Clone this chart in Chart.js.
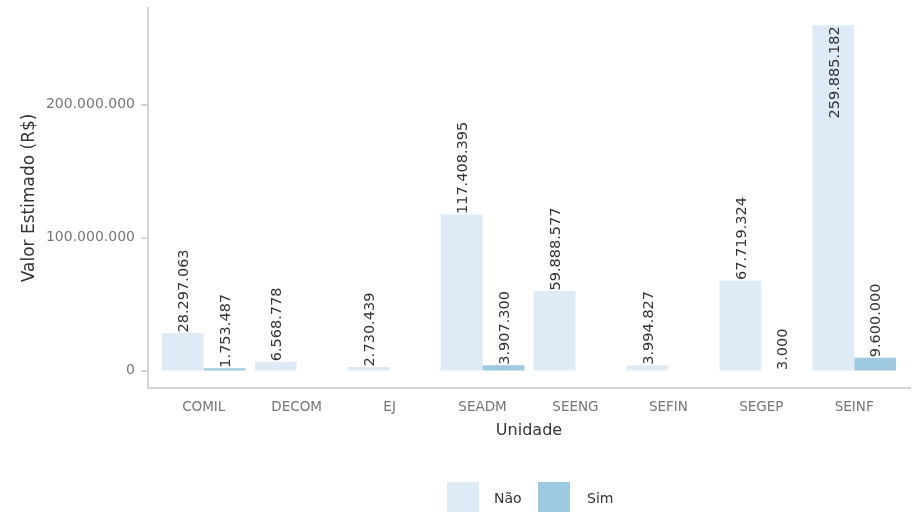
<!DOCTYPE html>
<html>
<head>
<meta charset="utf-8">
<script src="https://cdn.jsdelivr.net/npm/chart.js@4/dist/chart.umd.min.js"></script>
<style>
  html, body { margin: 0; padding: 0; background: #ffffff; }
  #wrap { width: 915px; height: 512px; }
</style>
</head>
<body>
<div id="wrap"><canvas id="c" width="915" height="512"></canvas></div>
<script>
const categories = ['COMIL', 'DECOM', 'EJ', 'SEADM', 'SEENG', 'SEFIN', 'SEGEP', 'SEINF'];
const seriesNames = ['Não', 'Sim'];
const valuesNao = [28297063, 6568778, 2730439, 117408395, 59888577, 3994827, 67719324, 259885182];
const valuesSim = [1753487, null, null, 3907300, null, null, 3000, 9600000];
const yTicks = [0, 100000000, 200000000];
const colors = ['#deebf7', '#9ecae1'];

const FONT = "'DejaVu Sans', sans-serif";

function fmt(v) {
  return String(Math.round(v)).replace(/\B(?=(\d{3})+(?!\d))/g, '.');
}
function toPoints(arr) {
  const pts = [];
  arr.forEach((v, i) => { if (v !== null) pts.push({ x: i + 1, y: v }); });
  return pts;
}

const maxVal = Math.max(...valuesNao, ...valuesSim.filter(v => v !== null));
const yMin = -0.05 * maxVal;
const yMax = maxVal * 1.05;

const labelPlugin = {
  id: 'barLabels',
  afterDatasetsDraw(chart) {
    const ctx = chart.ctx;
    ctx.save();
    ctx.font = '14.5px ' + FONT;
    ctx.fillStyle = '#333333';
    ctx.textBaseline = 'middle';
    chart.data.datasets.forEach((ds, di) => {
      const meta = chart.getDatasetMeta(di);
      meta.data.forEach((el, i) => {
        const txt = fmt(ds.data[i].y);
        const w = ctx.measureText(txt).width;
        ctx.save();
        ctx.translate(el.x + 1.5, el.y);
        ctx.rotate(-Math.PI / 2);
        if (el.y - w < chart.chartArea.top) {
          ctx.textAlign = 'right';
          ctx.fillText(txt, -1, 0);
        } else {
          ctx.textAlign = 'left';
          ctx.fillText(txt, 0.5, 0);
        }
        ctx.restore();
      });
    });
    ctx.restore();
  }
};

const legendPlugin = {
  id: 'customLegend',
  afterDraw(chart) {
    const ctx = chart.ctx;
    ctx.save();
    const keyX = [447, 538];
    const textX = [494, 587];
    ctx.font = '14px ' + FONT;
    ctx.textBaseline = 'middle';
    ctx.textAlign = 'left';
    chart.data.datasets.forEach((ds, i) => {
      ctx.fillStyle = ds.backgroundColor;
      ctx.fillRect(keyX[i], 482, 32, 32);
      ctx.fillStyle = '#333333';
      ctx.fillText(ds.label, textX[i], 499);
    });
    ctx.restore();
  }
};

new Chart(document.getElementById('c'), {
  type: 'bar',
  data: {
    datasets: [
      { label: seriesNames[0], data: toPoints(valuesNao), backgroundColor: colors[0], borderWidth: 0, inflateAmount: 0 },
      { label: seriesNames[1], data: toPoints(valuesSim), backgroundColor: colors[1], borderWidth: 0, inflateAmount: 0 }
    ]
  },
  plugins: [labelPlugin, legendPlugin],
  options: {
    responsive: false,
    animation: false,
    devicePixelRatio: 1,
    categoryPercentage: 0.9,
    barPercentage: 1.0,
    layout: { padding: { top: 8, right: 5, bottom: 70, left: 0 } },
    plugins: {
      legend: { display: false },
      tooltip: { enabled: false }
    },
    scales: {
      x: {
        type: 'linear',
        min: 0.4,
        max: 8.6,
        offset: false,
        afterBuildTicks(scale) {
          scale.ticks = categories.map((c, i) => ({ value: i + 1 }));
        },
        afterFit(scale) {
          scale.height = 512 - 70 - 387.8;
          scale.paddingLeft = 0; scale.paddingRight = 0;
        },
        ticks: {
          autoSkip: false,
          maxRotation: 0,
          padding: 12,
          color: '#767676',
          font: { family: FONT, size: 13.5 },
          callback: (v) => categories[Math.round(v) - 1] || ''
        },
        grid: { display: false, drawTicks: false },
        border: { display: true, color: '#d4d4d4', width: 2 },
        title: {
          display: true,
          text: 'Unidade',
          color: '#333333',
          font: { family: FONT, size: 16 },
          padding: { top: 0, bottom: 2 }
        }
      },
      y: {
        min: yMin,
        max: yMax,
        afterBuildTicks(scale) {
          scale.ticks = yTicks.map(v => ({ value: v }));
        },
        afterFit(scale) {
          scale.width = 148;
          scale.paddingTop = 0; scale.paddingBottom = 0;
        },
        ticks: {
          padding: 6,
          color: '#767676',
          font: { family: FONT, size: 14 },
          callback: (v) => fmt(v)
        },
        grid: {
          display: true,
          drawOnChartArea: false,
          drawTicks: true,
          tickLength: 7,
          color: '#d4d4d4',
          lineWidth: 0,
          tickColor: '#d4d4d4',
          tickWidth: 2
        },
        border: { display: true, color: '#d4d4d4', width: 2 },
        title: {
          display: true,
          text: 'Valor Estimado (R$)',
          color: '#333333',
          font: { family: FONT, size: 17 },
          padding: { top: 19, bottom: 0 }
        }
      }
    }
  }
});
</script>
</body>
</html>
